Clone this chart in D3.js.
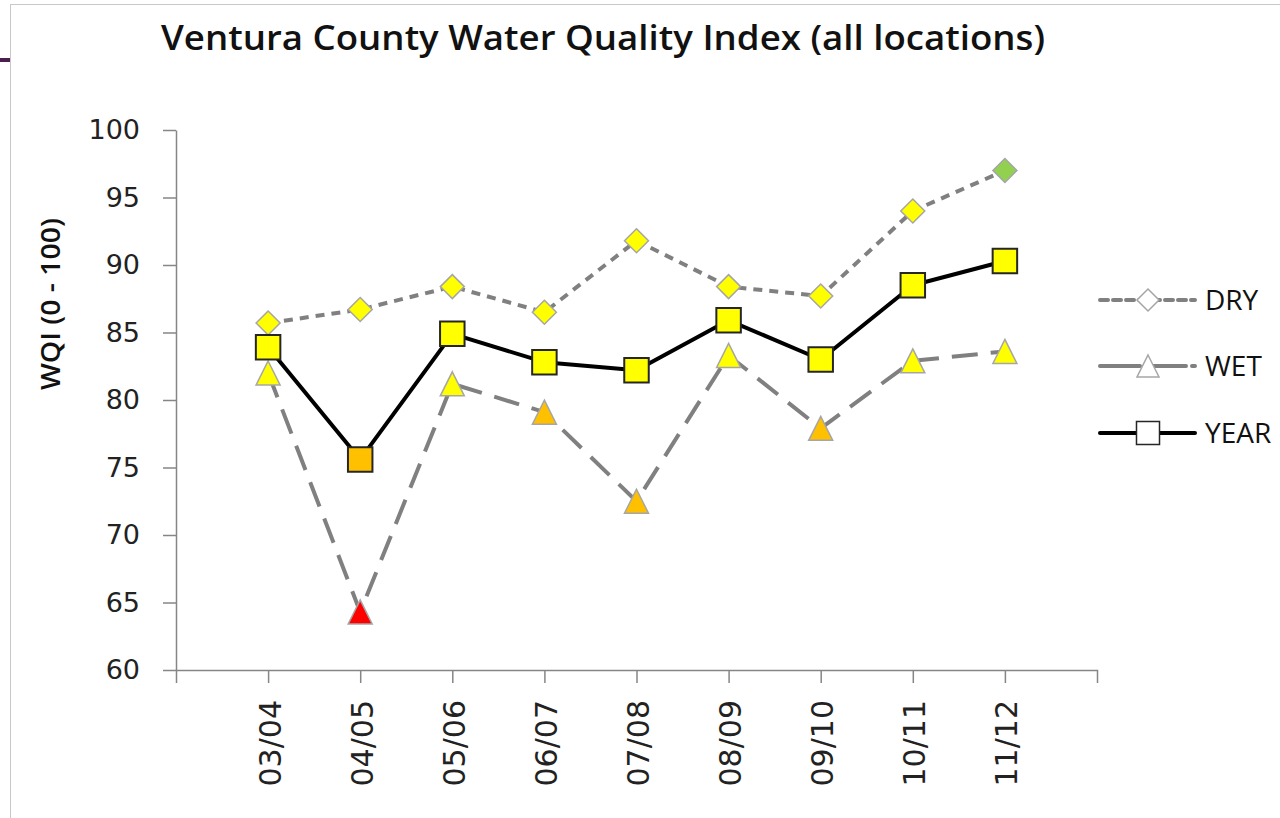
<!DOCTYPE html>
<html>
<head>
<meta charset="utf-8">
<script src="https://cdn.jsdelivr.net/npm/d3@7"></script>
<style>
  html, body { margin: 0; padding: 0; background: #fff; }
  svg { display: block; }
</style>
</head>
<body>
<div id="chart"></div>
<script>
// Water quality index per season
const seasons = ["03/04", "04/05", "05/06", "06/07", "07/08", "08/09", "09/10", "10/11", "11/12"];
const dryValues = [85.7, 86.7, 88.4, 86.5, 91.8, 88.4, 87.7, 94.0, 97.0];
const wetValues = [82.0, 64.3, 81.2, 79.1, 72.5, 83.3, 77.9, 82.9, 83.6];
const yearValues = [83.9, 75.6, 84.9, 82.8, 82.2, 85.9, 83.0, 88.5, 90.3];
const yTicks = [60, 65, 70, 75, 80, 85, 90, 95, 100];
const seriesNames = ["DRY", "WET", "YEAR"];

// WQI grade bands -> marker fill
const gradeColor = d3.scaleThreshold()
    .domain([65, 80, 95])
    .range(["#ff0000", "#ffc000", "#ffff00", "#92d050"]);

const width = 1280, height = 818;
const margin = { left: 176, right: 183, top: 130, bottom: 148 };

// Excel style markers: box centred, as wide as tall
const symDiamond = {
    draw(ctx, size) {
        const r = Math.sqrt(size) / 2;
        ctx.moveTo(0, -r); ctx.lineTo(r, 0); ctx.lineTo(0, r); ctx.lineTo(-r, 0); ctx.closePath();
    }
};
const symTriangle = {
    draw(ctx, size) {
        const r = Math.sqrt(size) / 2;
        ctx.moveTo(0, -r); ctx.lineTo(r, r); ctx.lineTo(-r, r); ctx.closePath();
    }
};
const symSquare = {
    draw(ctx, size) {
        const r = Math.sqrt(size) / 2;
        ctx.rect(-r, -r, 2 * r, 2 * r);
    }
};

const svg = d3.select("#chart").append("svg")
    .attr("width", width)
    .attr("height", height);

// slide frame bits
svg.append("line").attr("x1", 10).attr("x2", width).attr("y1", 4.5).attr("y2", 4.5)
    .attr("stroke", "#c8c8c8").attr("stroke-width", 1);
svg.append("line").attr("x1", 10.5).attr("x2", 10.5).attr("y1", 4).attr("y2", height)
    .attr("stroke", "#c8c8c8").attr("stroke-width", 1);
svg.append("line").attr("x1", 0).attr("x2", 10).attr("y1", 60).attr("y2", 60)
    .attr("stroke", "#4b1e4f").attr("stroke-width", 4);

const x = d3.scalePoint()
    .domain(seasons)
    .range([margin.left, width - margin.right])
    .padding(1);

const y = d3.scaleLinear()
    .domain([60, 100])
    .range([height - margin.bottom, margin.top]);

// title
svg.append("text")
    .attr("x", 603).attr("y", 50)
    .attr("text-anchor", "middle")
    .attr("font-family", "'Open Sans', sans-serif")
    .attr("font-weight", 600)
    .attr("font-size", 34)
    .attr("fill", "#111")
    .attr("textLength", 884)
    .attr("lengthAdjust", "spacingAndGlyphs")
    .text("Ventura County Water Quality Index (all locations)");

// y axis
const yAxis = svg.append("g")
    .attr("transform", `translate(${margin.left},0)`)
    .call(d3.axisLeft(y).tickValues(yTicks).tickSize(13).tickSizeOuter(0).tickPadding(23));
yAxis.select(".domain").attr("stroke", "#868686").attr("stroke-width", 1.5);
yAxis.selectAll(".tick line").attr("stroke", "#868686").attr("stroke-width", 1.5);
yAxis.selectAll(".tick text")
    .attr("font-family", "'DejaVu Sans', sans-serif")
    .attr("font-size", 27)
    .attr("fill", "#222");

// x axis
const xAxis = svg.append("g")
    .attr("transform", `translate(0,${y(60)})`)
    .call(d3.axisBottom(x).tickSize(13).tickSizeOuter(13).tickPadding(0));
xAxis.select(".domain").attr("stroke", "#868686").attr("stroke-width", 1.5);
xAxis.selectAll(".tick line").attr("stroke", "#868686").attr("stroke-width", 1.5);
xAxis.selectAll(".tick text")
    .attr("font-family", "'DejaVu Sans', sans-serif")
    .attr("font-size", 30)
    .attr("fill", "#222")
    .attr("text-anchor", "end")
    .attr("dy", "0")
    .attr("transform", "translate(-1,30) rotate(-90)");

// y axis title
svg.append("text")
    .attr("transform", "translate(60,304) rotate(-90)")
    .attr("text-anchor", "middle")
    .attr("font-family", "'Open Sans', sans-serif")
    .attr("font-weight", 600)
    .attr("font-size", 27)
    .attr("fill", "#111")
    .attr("textLength", 172)
    .attr("lengthAdjust", "spacingAndGlyphs")
    .text("WQI (0 - 100)");

const line = d3.line()
    .x((d, i) => x(seasons[i]))
    .y(d => y(d));

const series = [
    { name: seriesNames[0], values: dryValues, stroke: "#808080", dash: "9,7", legendDash: "8,5", shape: symDiamond, size: 576, mStroke: "#a6a6a6", mWidth: 1.5 },
    { name: seriesNames[1], values: wetValues, stroke: "#808080", dash: "26,13", legendDash: "40,6", shape: symTriangle, size: 576, mStroke: "#a6a6a6", mWidth: 1.5 },
    { name: seriesNames[2], values: yearValues, stroke: "#000000", dash: null, legendDash: null, shape: symSquare, size: 600, mStroke: "#262626", mWidth: 2 }
];

// lines first
series.forEach(s => {
    svg.append("path")
        .datum(s.values)
        .attr("d", line)
        .attr("fill", "none")
        .attr("stroke", s.stroke)
        .attr("stroke-width", 4)
        .attr("stroke-dasharray", s.dash)
        .attr("stroke-linejoin", "round");
});

// markers
series.forEach(s => {
    const sym = d3.symbol().type(s.shape).size(s.size);
    svg.append("g").selectAll("path")
        .data(s.values)
        .enter()
        .append("path")
        .attr("d", sym)
        .attr("transform", (d, i) => `translate(${x(seasons[i])},${y(d)})`)
        .attr("fill", d => gradeColor(d))
        .attr("stroke", s.mStroke)
        .attr("stroke-width", s.mWidth);
});

// legend
const legendY = [300, 366, 433];
const legend = svg.append("g");
series.forEach((s, i) => {
    const g = legend.append("g").attr("transform", `translate(1100,${legendY[i]})`);
    g.append("line")
        .attr("x1", 0).attr("x2", 95)
        .attr("stroke", s.stroke)
        .attr("stroke-width", 4)
        .attr("stroke-linecap", "round")
        .attr("stroke-dasharray", s.legendDash);
    g.append("path")
        .attr("d", d3.symbol().type(s.shape).size(i === 2 ? 530 : 484))
        .attr("transform", "translate(48,0)")
        .attr("fill", "#fff")
        .attr("stroke", i === 2 ? "#262626" : "#a6a6a6")
        .attr("stroke-width", 1.5);
    g.append("text")
        .attr("x", 105).attr("y", 0)
        .attr("dy", "0.36em")
        .attr("font-family", "'Open Sans', sans-serif")
        .attr("font-size", 28)
        .attr("fill", "#111")
        .text(s.name);
});
</script>
</body>
</html>
